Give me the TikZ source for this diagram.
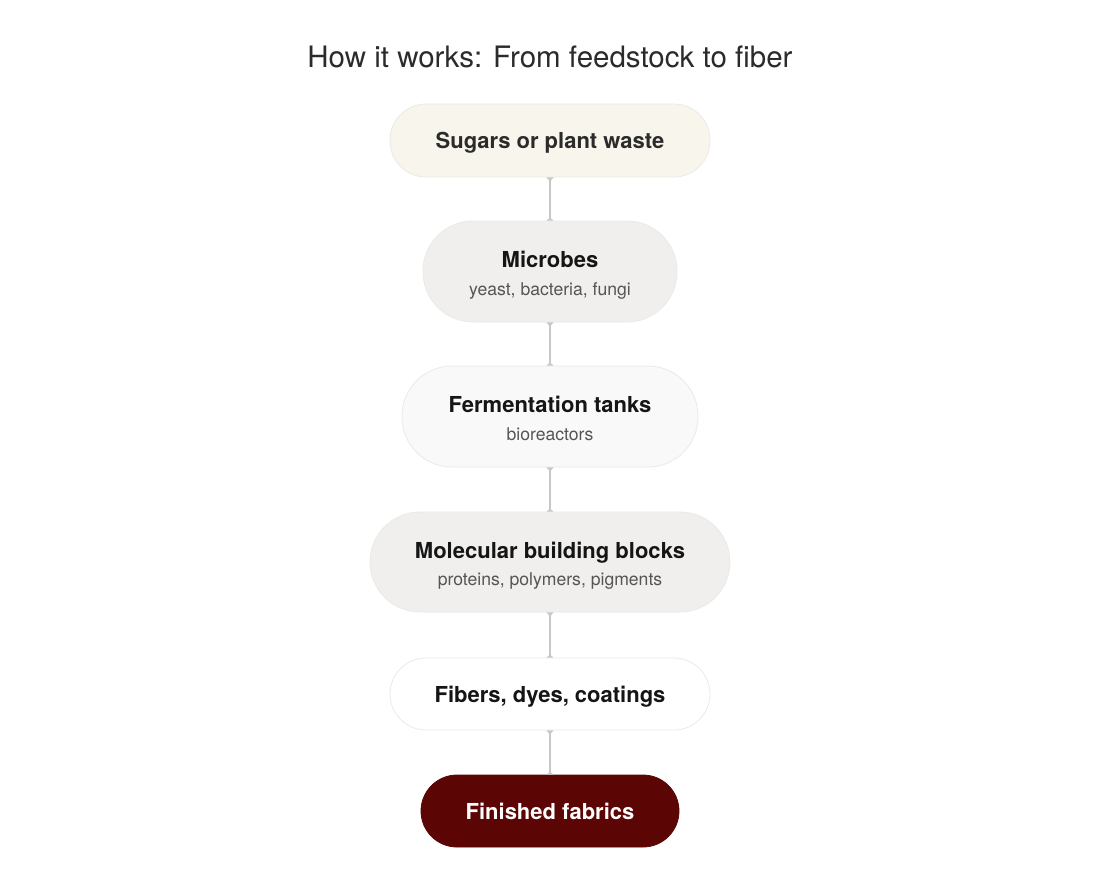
\documentclass[tikz,border=0pt]{standalone}
\usepackage{fontspec}
\setmainfont{TeX Gyre Heros}
\usetikzlibrary{arrows.meta}
\definecolor{cream}{HTML}{F8F5EC}
\definecolor{warm}{HTML}{F1EFED}
\definecolor{light}{HTML}{F9F9F9}
\definecolor{edge}{HTML}{ECEAE6}
\definecolor{conncol}{HTML}{C8C8C8}
\definecolor{maroon}{HTML}{5C0505}
\definecolor{ink}{HTML}{151515}
\definecolor{subink}{HTML}{555555}
\definecolor{titleink}{HTML}{2B2B2B}
\tikzset{
  pill/.style={draw=edge, line width=0.8pt, align=center, inner sep=0pt,
    font=\fontsize{22}{26}\selectfont\bfseries, text=ink},
  conn/.style={draw=conncol, line width=2pt,
    {Triangle[reversed,width=7pt,length=4pt]}-{Triangle[reversed,width=7pt,length=3pt]}},
}
\newcommand{\subline}[1]{\\[1.5pt]{\fontsize{17.6}{20}\selectfont\mdseries\color{subink}#1}}
\newcommand{\pushd}[1]{\rule{0pt}{#1}}
\begin{document}
\begin{tikzpicture}[x=1pt,y=-1pt]
\useasboundingbox[fill=white] (0,0) rectangle (1100,884);
\node[font=\fontsize{29.5}{34}\selectfont, text=titleink] (title) at (550,57) {How it works: From feedstock to fiber};
\node[pill, fill=cream, text=titleink, minimum width=320pt, minimum height=73pt, rounded corners=36pt] (n1) at (550,140.5) {\pushd{20pt}Sugars or plant waste};
\node[pill, fill=warm, minimum width=254pt, minimum height=101pt, rounded corners=50pt] (n2) at (550,271.5) {\pushd{24pt}Microbes\subline{yeast, bacteria, fungi}};
\node[pill, fill=light, minimum width=296pt, minimum height=101pt, rounded corners=50pt] (n3) at (550,416.5) {\pushd{20.5pt}Fermentation tanks\subline{bioreactors}};
\node[pill, fill=warm, minimum width=360pt, minimum height=100pt, rounded corners=50pt] (n4) at (550,562) {\pushd{23.5pt}Molecular building blocks\subline{proteins, polymers, pigments}};
\node[pill, fill=white, minimum width=320pt, minimum height=72pt, rounded corners=36pt] (n5) at (550,694) {\pushd{22pt}Fibers, dyes, coatings};
\node[pill, fill=maroon, draw=maroon, text=white, minimum width=258pt, minimum height=72pt, rounded corners=36pt] (n6) at (550,811) {Finished fabrics};
\draw[conn] (n1.south) -- (n2.north);
\draw[conn] (n2.south) -- (n3.north);
\draw[conn] (n3.south) -- (n4.north);
\draw[conn] (n4.south) -- (n5.north);
\draw[conn] (n5.south) -- (n6.north);
\end{tikzpicture}
\end{document}
